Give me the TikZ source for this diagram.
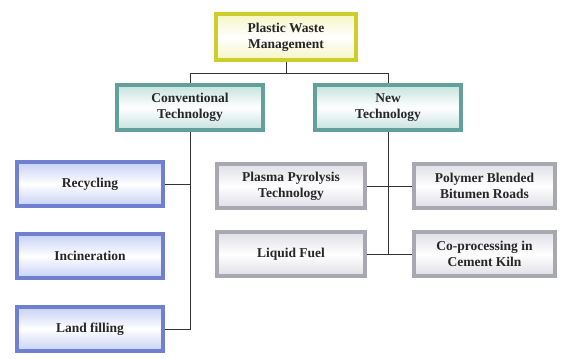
\documentclass[tikz,border=0pt]{standalone}
\usepackage{fontspec}
\setmainfont{Liberation Serif}
\definecolor{pwmedge}{RGB}{205,205,45}
\definecolor{pwmfill}{RGB}{246,246,196}
\definecolor{techedge}{RGB}{100,160,155}
\definecolor{techfill}{RGB}{196,226,222}
\definecolor{convedge}{RGB}{112,128,208}
\definecolor{convfill}{RGB}{198,208,246}
\definecolor{newedge}{RGB}{168,168,178}
\definecolor{newfill}{RGB}{222,222,230}
\tikzset{
	box/.style={draw, line width=3.5pt, align=center, inner sep=1pt,
		font=\fontsize{13.5}{16}\selectfont\bfseries, text=black!85},
	pwmbox/.style={box, draw=pwmedge, top color=pwmfill, bottom color=pwmfill, middle color=white,
		minimum width=140pt, minimum height=46pt},
	techbox/.style={box, draw=techedge, top color=techfill, bottom color=techfill, middle color=white,
		minimum width=146pt, minimum height=45pt},
	convbox/.style={box, draw=convedge, top color=convfill, bottom color=convfill, middle color=white,
		minimum width=146pt, minimum height=44pt},
	newbox/.style={box, draw=newedge, top color=newfill, bottom color=newfill, middle color=white,
		minimum height=44pt},
	link/.style={draw=black!80, line width=0.8pt}
}
\begin{document}
\begin{tikzpicture}[x=1pt,y=-1pt]
	\useasboundingbox (0,0) rectangle (561,358);
	\node[pwmbox] (pwm) at (286,37) {Plastic Waste\\Management};
	\node[techbox] (conv) at (190,107.5) {Conventional\\Technology};
	\node[techbox] (newt) at (388,107.5) {New\\Technology};
	\node[convbox] (recy) at (90,184) {Recycling};
	\node[convbox] (inci) at (90,256) {Incineration};
	\node[convbox] (land) at (90,329) {Land filling};
	\node[newbox, minimum width=148pt] (plasma) at (291,186) {Plasma Pyrolysis\\Technology};
	\node[newbox, minimum width=141pt] (polymer) at (484.5,186) {Polymer Blended\\Bitumen Roads};
	\node[newbox, minimum width=148pt] (liquid) at (291,254) {Liquid Fuel};
	\node[newbox, minimum width=141pt] (cement) at (484.5,254) {Co-processing in\\Cement Kiln};
	\coordinate (bus) at (286,73);
	\draw[link] (pwm.south) -- (bus);
	\draw[link] (bus) -| (conv.north);
	\draw[link] (bus) -| (newt.north);
	\draw[link] (conv.south) |- (land.east);
	\draw[link] (recy.east) -- (recy.east -| conv.south);
	\draw[link] (newt.south) -- (newt.south |- liquid.east);
	\draw[link] (plasma.east) -- (polymer.west);
	\draw[link] (liquid.east) -- (cement.west);
\end{tikzpicture}
\end{document}
